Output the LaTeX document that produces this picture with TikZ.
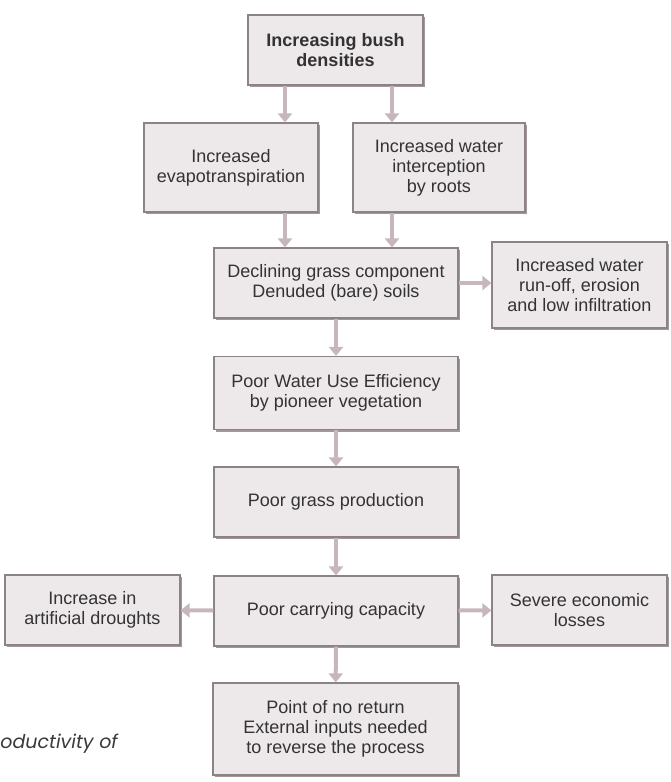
\documentclass[tikz,border=0pt]{standalone}
\usepackage{fontspec}
\setmainfont{Liberation Sans}
\newfontfamily\capfont{Poppins}
\usetikzlibrary{shadows,arrows.meta}
\definecolor{boxfill}{HTML}{EDE8E9}
\definecolor{boxline}{HTML}{8C8385}
\definecolor{boxshadow}{HTML}{A39799}
\definecolor{boxtext}{HTML}{333333}
\definecolor{arrcol}{HTML}{C7B7BB}
\definecolor{captext}{HTML}{3A3A3A}

\begin{document}
\begin{tikzpicture}[x=0.5pt,y=-0.5pt,
  box/.style={draw=boxline, line width=0.6pt, fill=boxfill, align=center, inner sep=0pt,
    font=\fontsize{9}{10}\selectfont, text=boxtext,
    drop shadow={shadow xshift=0.8pt, shadow yshift=-1.1pt, fill=boxshadow, opacity=1}},
  arr/.style={draw=arrcol, line width=2pt, -{Triangle[width=7pt,length=4.5pt]}}]
  \useasboundingbox (0,0) rectangle (670,782);
  \node[box, minimum width=87.5pt, minimum height=35pt, font=\bfseries\fontsize{9}{10}\selectfont] (bush) at (335.5,50) {Increasing bush\\densities};
  \node[box, minimum width=87pt, minimum height=44.5pt] (evap) at (231,167.5) {Increased\\evapotranspiration};
  \node[box, minimum width=86pt, minimum height=44.5pt] (roots) at (439,167.5) {Increased water\\interception\\by roots};
  \node[box, minimum width=122pt, minimum height=35pt] (grass) at (336,283) {Declining grass component\\Denuded (bare) soils};
  \node[box, minimum width=87.5pt, minimum height=43pt] (runoff) at (579.5,285) {Increased water\\run-off, erosion\\and low infiltration};
  \node[box, minimum width=122pt, minimum height=36.5pt] (wue) at (336,393) {Poor Water Use Efficiency\\by pioneer vegetation};
  \node[box, minimum width=122pt, minimum height=35pt] (prod) at (336,502) {Poor grass production};
  \node[box, minimum width=122pt, minimum height=35pt] (cap) at (336,611) {Poor carrying capacity};
  \node[box, minimum width=87.5pt, minimum height=35pt] (drought) at (92.5,610) {Increase in\\artificial droughts};
  \node[box, minimum width=87.5pt, minimum height=35pt] (loss) at (579.5,610) {Severe economic\\losses};
  \node[box, minimum width=122.5pt, minimum height=46pt] (noret) at (335.5,729) {Point of no return\\External inputs needed\\to reverse the process};
  \node[anchor=base west, inner sep=0pt, text=captext, font=\capfont\itshape\fontsize{9.5}{11}\selectfont] (caption) at (0,748) {oductivity of};
  \draw[arr] ([xshift=-25.25pt]bush.south) -- ([xshift=27pt]evap.north);
  \draw[arr] ([xshift=28.25pt]bush.south) -- ([xshift=-23.5pt]roots.north);
  \draw[arr] ([xshift=27pt]evap.south) -- ([xshift=-25.5pt]grass.north);
  \draw[arr] ([xshift=-23.5pt]roots.south) -- ([xshift=28pt]grass.north);
  \draw[arr] (grass.east) -- (grass.east -| runoff.west);
  \draw[arr] (grass) -- (wue);
  \draw[arr] (wue) -- (prod);
  \draw[arr] (prod) -- (cap);
  \draw[arr] (cap) -- (drought);
  \draw[arr] (cap) -- (loss);
  \draw[arr] (cap) -- (noret);
\end{tikzpicture}
\end{document}
